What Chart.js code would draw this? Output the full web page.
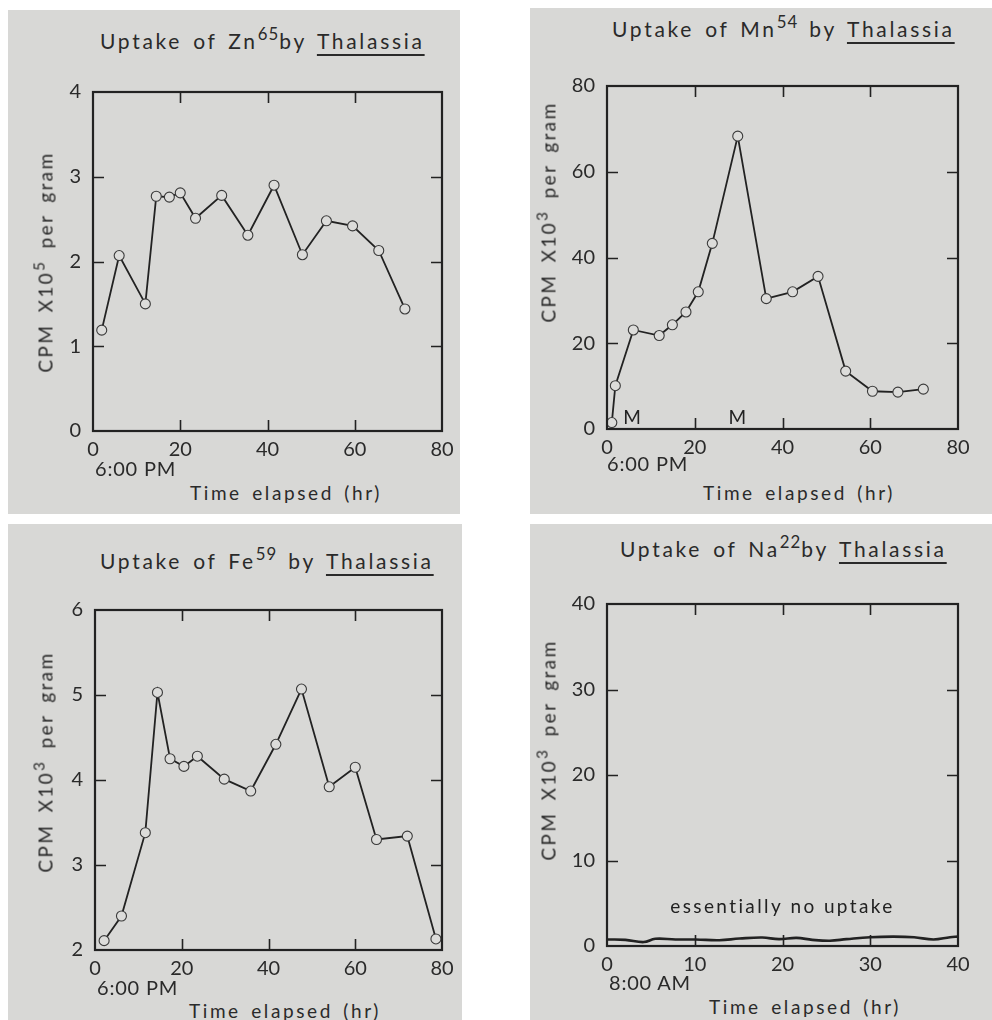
<!DOCTYPE html>
<html>
<head>
<meta charset="utf-8">
<script src="https://cdn.jsdelivr.net/npm/chart.js@4.4.1/dist/chart.umd.min.js"></script>
<style>
  html, body { margin:0; padding:0; background:#ffffff; }
  body { width:992px; height:1020px; position:relative; overflow:hidden; font-family:'Lato', sans-serif; color:#2a2a2a; }
  .panel { position:absolute; background:#d8d8d6; }
  .box { position:absolute; }
  .title { position:absolute; font-size:21px; letter-spacing:2.7px; word-spacing:3px; white-space:nowrap; line-height:1; }
  .title sup { font-size:0.8em; vertical-align:0.55em; line-height:0; letter-spacing:1px; }
  .title u { text-decoration-thickness:1.5px; text-underline-offset:5px; }
  .ytitle { position:absolute; font-size:19px; letter-spacing:2.4px; word-spacing:4px; white-space:nowrap; line-height:1; transform:translate(-50%,-50%) rotate(-90deg); }
  .ytitle sup { font-size:0.8em; vertical-align:0.5em; line-height:0; }
  .xtitle { position:absolute; font-size:19px; letter-spacing:2.6px; word-spacing:3px; white-space:nowrap; line-height:1; transform:translate(-50%,-50%); }
  .clock { position:absolute; font-size:20px; letter-spacing:0.8px; white-space:nowrap; line-height:1; transform:translateY(-50%); }
</style>
</head>
<body>
<script>
// ---------------- data ----------------
const xTicksLong = [0, 20, 40, 60, 80];
const xTicksShort = [0, 10, 20, 30, 40];

const znHours = [2, 6, 12, 14.5, 17.5, 20, 23.5, 29.5, 35.5, 41.5, 48, 53.5, 59.5, 65.5, 71.5];
const znCpm   = [1.19, 2.07, 1.50, 2.77, 2.76, 2.81, 2.51, 2.78, 2.31, 2.90, 2.08, 2.48, 2.42, 2.13, 1.44];

const mnHours = [1.1, 1.9, 6.0, 11.9, 14.9, 18.0, 20.8, 24.0, 29.8, 36.3, 42.3, 48.1, 54.4, 60.5, 66.3, 72.1];
const mnCpm   = [1.5, 10.1, 23.1, 21.8, 24.3, 27.3, 32.0, 43.3, 68.3, 30.4, 32.0, 35.6, 13.5, 8.8, 8.6, 9.3];

const feHours = [2.1, 6.1, 11.6, 14.4, 17.3, 20.5, 23.6, 29.8, 35.9, 41.7, 47.6, 54.0, 60.0, 64.9, 72.0, 78.6];
const feCpm   = [2.11, 2.40, 3.38, 5.03, 4.25, 4.16, 4.28, 4.01, 3.87, 4.42, 5.07, 3.92, 4.15, 3.30, 3.34, 2.13];

const naHours = [0, 2.1, 4.2, 5.5, 7.8, 10.1, 12.8, 15.1, 17.7, 19.6, 21.6, 23.4, 25.4, 27.3, 30.0, 32.6, 35.0, 37.2, 39.1, 40];
const naCpm   = [0.76, 0.72, 0.46, 0.84, 0.76, 0.76, 0.68, 0.87, 0.99, 0.80, 0.95, 0.72, 0.61, 0.80, 1.03, 1.10, 1.03, 0.76, 1.03, 1.10];

const mnNotes = [{x: 6, y: 2.6, text: 'M'}, {x: 30, y: 2.6, text: 'M'}];
const naNotes = [{x: 20, y: 4.6, text: 'essentially no uptake'}];

// ---------------- layout ----------------
const INK = '#222222';
const FONT = "'Lato', sans-serif";
const TICK_SIZE = 20;

const panels = [
  { box:[8,10,452,504],   plot:{l:93, t:83, r:442, b:431},
    title:{html:'Uptake of Zn<sup>65</sup>by <u>Thalassia</u>', x:100, y:42},
    ytitle:{html:'CPM X10<sup>5</sup> per gram', x:45, y:262},
    xtitle:{x:286, y:492}, clock:{text:'6:00 PM', x:95, y:468},
    xs:znHours, ys:znCpm, ymin:0, ymax:4, ystep:1, xmax:80, xstep:20, markers:true, notes:[] },
  { box:[530,8,462,506],  plot:{l:607, t:77, r:958, b:429},
    title:{html:'Uptake of Mn<sup>54</sup> by <u>Thalassia</u>', x:612, y:30},
    ytitle:{html:'CPM X10<sup>3</sup> per gram', x:548, y:212},
    xtitle:{x:799, y:492}, clock:{text:'6:00 PM', x:607, y:463},
    xs:mnHours, ys:mnCpm, ymin:0, ymax:80, ystep:20, xmax:80, xstep:20, markers:true, notes:mnNotes },
  { box:[8,524,454,496],  plot:{l:95, t:601, r:442, b:950},
    title:{html:'Uptake of Fe<sup>59</sup> by <u>Thalassia</u>', x:100, y:562},
    ytitle:{html:'CPM X10<sup>3</sup> per gram', x:45, y:762},
    xtitle:{x:285, y:1010}, clock:{text:'6:00 PM', x:97, y:987},
    xs:feHours, ys:feCpm, ymin:2, ymax:6, ystep:1, xmax:80, xstep:20, markers:true, notes:[] },
  { box:[530,524,462,496], plot:{l:607, t:595, r:958, b:946},
    title:{html:'Uptake of Na<sup>22</sup>by <u>Thalassia</u>', x:620, y:550},
    ytitle:{html:'CPM X10<sup>3</sup> per gram', x:548, y:750},
    xtitle:{x:805, y:1006}, clock:{text:'8:00 AM', x:609, y:982},
    xs:naHours, ys:naCpm, ymin:0, ymax:40, ystep:10, xmax:40, xstep:10, markers:false, notes:naNotes }
];

// frame + inward ticks on all four sides
const frameTicks = {
  id: 'frameTicks',
  afterDatasetsDraw(chart) {
    const {ctx, chartArea:{left, top, right, bottom}, scales:{x, y}} = chart;
    ctx.save();
    ctx.strokeStyle = INK;
    ctx.lineWidth = 1.6;
    const T = 11;
    x.ticks.forEach((t, i) => {
      if (i === 0 || i === x.ticks.length - 1) return;
      const px = Math.round(x.getPixelForValue(t.value)) + 0.5;
      ctx.beginPath();
      ctx.moveTo(px, bottom); ctx.lineTo(px, bottom - T);
      ctx.moveTo(px, top); ctx.lineTo(px, top + T);
      ctx.stroke();
    });
    y.ticks.forEach((t, i) => {
      if (i === 0 || i === y.ticks.length - 1) return;
      const py = Math.round(y.getPixelForValue(t.value)) + 0.5;
      ctx.beginPath();
      ctx.moveTo(left, py); ctx.lineTo(left + T, py);
      ctx.moveTo(right, py); ctx.lineTo(right - T, py);
      ctx.stroke();
    });
    ctx.lineWidth = 2.2;
    ctx.strokeRect(left, top, right - left, bottom - top);
    ctx.restore();
  }
};

// text notes anchored in data units
const notesPlugin = {
  id: 'notes',
  afterDatasetsDraw(chart, args, opts) {
    const items = opts.items || [];
    const {ctx, scales:{x, y}} = chart;
    ctx.save();
    ctx.fillStyle = INK;
    ctx.font = "19px " + FONT;
    ctx.textAlign = 'center';
    ctx.textBaseline = 'middle';
    try { ctx.letterSpacing = '2.4px'; } catch(e) {}
    items.forEach(n => ctx.fillText(n.text, x.getPixelForValue(n.x), y.getPixelForValue(n.y)));
    ctx.restore();
  }
};

const PAD_T = 15, PAD_R = 22, YW = 80, XH = 35;

panels.forEach(p => {
  const pn = document.createElement('div');
  pn.className = 'panel';
  pn.style.left = p.box[0] + 'px'; pn.style.top = p.box[1] + 'px';
  pn.style.width = p.box[2] + 'px'; pn.style.height = p.box[3] + 'px';
  document.body.appendChild(pn);

  const w = (p.plot.r - p.plot.l) + YW + PAD_R;
  const h = (p.plot.b - p.plot.t) + PAD_T + XH;
  const box = document.createElement('div');
  box.className = 'box';
  box.style.left = (p.plot.l - YW) + 'px';
  box.style.top = (p.plot.t - PAD_T) + 'px';
  box.style.width = w + 'px'; box.style.height = h + 'px';
  const cv = document.createElement('canvas');
  cv.width = w; cv.height = h;
  box.appendChild(cv);
  document.body.appendChild(box);

  const t = document.createElement('div');
  t.className = 'title'; t.innerHTML = p.title.html;
  t.style.left = p.title.x + 'px'; t.style.top = (p.title.y - 12) + 'px';
  document.body.appendChild(t);

  const yt = document.createElement('div');
  yt.className = 'ytitle'; yt.innerHTML = p.ytitle.html;
  yt.style.left = p.ytitle.x + 'px'; yt.style.top = p.ytitle.y + 'px';
  document.body.appendChild(yt);

  const xt = document.createElement('div');
  xt.className = 'xtitle'; xt.textContent = 'Time elapsed (hr)';
  xt.style.left = p.xtitle.x + 'px'; xt.style.top = p.xtitle.y + 'px';
  document.body.appendChild(xt);

  const ck = document.createElement('div');
  ck.className = 'clock'; ck.textContent = p.clock.text;
  ck.style.left = p.clock.x + 'px'; ck.style.top = p.clock.y + 'px';
  document.body.appendChild(ck);

  const pts = p.xs.map((xv, i) => ({x: xv, y: p.ys[i]}));

  new Chart(cv, {
    type: 'line',
    data: { datasets: [{
      data: pts,
      borderColor: INK,
      borderWidth: p.markers ? 1.8 : 2.6,
      tension: p.markers ? 0 : 0.4,
      pointRadius: p.markers ? 5 : 0,
      pointBackgroundColor: '#dcdcda',
      pointBorderColor: '#3a3a3a',
      pointBorderWidth: 1.1,
      fill: false
    }]},
    options: {
      responsive: false,
      animation: false,
      devicePixelRatio: 1,
      layout: { padding: { top: PAD_T, right: PAD_R, left: 0, bottom: 0 } },
      plugins: {
        legend: { display: false },
        tooltip: { enabled: false },
        notes: { items: p.notes }
      },
      scales: {
        x: {
          type: 'linear', min: 0, max: p.xmax,
          grid: { display: false, drawTicks: false },
          border: { display: false },
          ticks: { stepSize: p.xstep, padding: 7, color: '#2a2a2a', font: { family: FONT, size: TICK_SIZE }, maxRotation: 0 },
          afterFit: s => { s.height = XH; }
        },
        y: {
          type: 'linear', min: p.ymin, max: p.ymax,
          grid: { display: false, drawTicks: false },
          border: { display: false },
          ticks: { stepSize: p.ystep, padding: 12, color: '#2a2a2a', font: { family: FONT, size: TICK_SIZE } },
          afterFit: s => { s.width = YW; }
        }
      }
    },
    plugins: [frameTicks, notesPlugin]
  });
});
</script>
</body>
</html>
